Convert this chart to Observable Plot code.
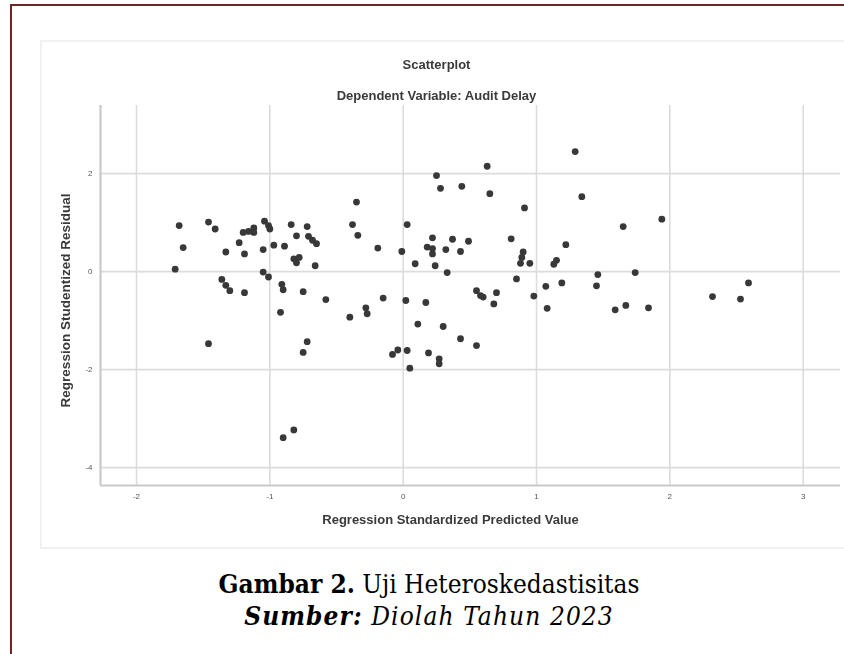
<!DOCTYPE html>
<html>
<head>
<meta charset="utf-8">
<script src="https://cdn.jsdelivr.net/npm/d3@7"></script>
<script src="https://cdn.jsdelivr.net/npm/@observablehq/plot@0.6"></script>
<style>
html, body { margin: 0; padding: 0; background: #fff; }
body { width: 844px; height: 654px; position: relative; overflow: hidden; }
#frame { position: absolute; left: 10px; top: 4px; width: 900px; height: 700px;
  border-left: 2px solid #6e2525; border-top: 2px solid #6e2525; }
#img { position: absolute; left: 40px; top: 40px; width: 820px; height: 505px;
  border: 2px solid #f1f1f1; background: #fff; }
#chart { position: absolute; left: 0; top: 0; }
#caption { position: absolute; left: 0; top: 568px; width: 858px; text-align: center;
  font-family: "DejaVu Serif Condensed", "DejaVu Serif", serif; color: #000;
  font-size: 26px; line-height: 32px; }
#caption .l2 { letter-spacing: 1.1px; }
</style>
</head>
<body>
<div id="frame"></div>
<div id="img"></div>
<div id="chart"></div>
<div id="caption"><b>Gambar 2.</b> Uji Heteroskedastisitas<br><span class="l2"><b><i>Sumber:</i></b> <i>Diolah Tahun 2023</i></span></div>
<script>
const title = "Scatterplot";
const subtitle = "Dependent Variable: Audit Delay";
const xLabel = "Regression Standardized Predicted Value";
const yLabel = "Regression Studentized Residual";
const xTicks = [-2, -1, 0, 1, 2, 3];
const yTicks = [2, 0, -2, -4];

const predicted = [
  -1.68, -1.65, -1.71, -1.46, -1.41, -1.33, -1.23, -1.19, -1.20, -1.16, -1.12, -1.12,
  -1.04, -1.01, -1.00, -1.05, -0.97, -0.89, -0.84, -0.80, -0.72, -0.71, -0.68, -0.65,
  -0.82, -0.78, -0.80, -0.66, -1.05, -1.01, -1.36, -1.33, -1.30, -1.19, -0.91, -0.90,
  -0.75, -0.58, -0.92, -1.46, -0.72, -0.75, -0.82, -0.90,
  1.29, 0.63, 0.25, 0.28, 0.44, 0.65, 1.34, -0.35, 0.91, -0.38, -0.34, 0.03,
  -0.19, -0.01, 0.09, 0.22, 0.18, 0.22, 0.22, 0.24, 0.32, 0.37, 0.43, 0.49,
  0.33, 0.81, 0.90, 0.89, 0.88, 0.95, 0.85, 1.22, 1.15, 1.13, 1.07, 1.19,
  1.46, 1.45, 0.98, 0.70, 0.55, 0.58, 0.60, -0.15, 0.02, 0.17, 0.68, 1.08,
  -0.40, -0.28, -0.27, 0.11, 0.30, 0.43, 0.55, -0.08, -0.04, 0.03, 0.19, 0.27,
  0.27, 0.05, 1.65, 1.94, 1.74, 2.59, 2.32, 2.53, 1.59, 1.67, 1.84
];
const residual = [
  0.94, 0.49, 0.05, 1.01, 0.87, 0.40, 0.59, 0.36, 0.80, 0.82, 0.89, 0.80,
  1.03, 0.94, 0.87, 0.45, 0.54, 0.52, 0.96, 0.73, 0.92, 0.72, 0.64, 0.57,
  0.26, 0.29, 0.18, 0.12, -0.01, -0.11, -0.16, -0.28, -0.39, -0.43, -0.26, -0.37,
  -0.41, -0.57, -0.83, -1.47, -1.43, -1.65, -3.23, -3.39,
  2.45, 2.15, 1.96, 1.70, 1.74, 1.59, 1.53, 1.42, 1.30, 0.96, 0.74, 0.96,
  0.48, 0.41, 0.16, 0.69, 0.50, 0.47, 0.36, 0.12, 0.45, 0.66, 0.41, 0.62,
  -0.02, 0.67, 0.40, 0.29, 0.17, 0.17, -0.15, 0.55, 0.23, 0.15, -0.30, -0.23,
  -0.06, -0.29, -0.50, -0.43, -0.39, -0.49, -0.52, -0.54, -0.59, -0.63, -0.66, -0.75,
  -0.93, -0.74, -0.86, -1.07, -1.12, -1.37, -1.51, -1.69, -1.60, -1.61, -1.66, -1.78,
  -1.88, -1.97, 0.92, 1.07, -0.02, -0.23, -0.51, -0.56, -0.78, -0.69, -0.74
];

const points = predicted.map((x, i) => ({x, y: residual[i]}));
const xDomain = [-2.27, 3.28];
const yDomain = [-4.365, 3.39];
const fmt = d => String(d);

const chart = Plot.plot({
  width: 844,
  height: 540,
  marginLeft: 100,
  marginRight: 4,
  marginTop: 105,
  marginBottom: 55,
  style: {background: "transparent", fontFamily: "Arial, 'Liberation Sans', sans-serif", overflow: "visible"},
  x: {domain: xDomain, ticks: xTicks, tickFormat: fmt},
  y: {domain: yDomain, ticks: yTicks, tickFormat: fmt},
  marks: [
    Plot.gridX(xTicks, {stroke: "#dcdcdc", strokeOpacity: 1, strokeWidth: 1.6}),
    Plot.gridY(yTicks, {stroke: "#dcdcdc", strokeOpacity: 1, strokeWidth: 1.6}),
    Plot.ruleX([xDomain[0]], {stroke: "#c9c9c9", strokeWidth: 2.2}),
    Plot.ruleY([yDomain[0]], {stroke: "#c9c9c9", strokeWidth: 2.2}),
    Plot.axisX(xTicks, {tickSize: 0, tickPadding: 8, fontSize: 8, fill: "#555", label: null, tickFormat: fmt}),
    Plot.axisY(yTicks, {tickSize: 0, tickPadding: 8, fontSize: 8, fill: "#555", label: null, tickFormat: fmt}),
    Plot.dot(points, {x: "x", y: "y", r: 3.4, fill: "#383838", stroke: "none"}),
    Plot.text([title], {text: d => d, frameAnchor: "top", dx: -34, dy: -46, fontSize: 13, fontWeight: "bold", fill: "#3a3a3a"}),
    Plot.text([subtitle], {text: d => d, frameAnchor: "top", dx: -34, dy: -15, fontSize: 13, fontWeight: "bold", fill: "#3a3a3a"}),
    Plot.text([xLabel], {text: d => d, frameAnchor: "bottom", dx: -20, dy: 38, fontSize: 13, fontWeight: "bold", fill: "#3a3a3a"}),
    Plot.text([yLabel], {text: d => d, frameAnchor: "left", textAnchor: "middle", dx: -35, dy: 5, rotate: -90, fontSize: 13.5, fontWeight: "bold", fill: "#3a3a3a"})
  ]
});
chart.style.filter = "blur(0.4px)";
document.getElementById("chart").appendChild(chart);
</script>
</body>
</html>
